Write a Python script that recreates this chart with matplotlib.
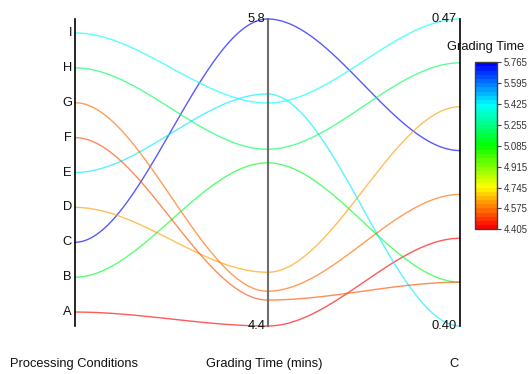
import numpy as np
import matplotlib
matplotlib.use("Agg")
import matplotlib.pyplot as plt
from matplotlib.colors import ListedColormap, Normalize, hsv_to_rgb
from matplotlib.cm import ScalarMappable

plt.rcParams['font.family'] = ['Liberation Sans', 'DejaVu Sans']

# Data for each processing condition
conditions = ['A', 'B', 'C', 'D', 'E', 'F', 'G', 'H', 'I']
grading_time = [4.405, 5.128, 5.765, 4.643, 5.433, 4.520, 4.559, 5.188, 5.393]
c_values = [0.42, 0.41, 0.44, 0.45, 0.40, 0.41, 0.43, 0.46, 0.47]
axis_titles = ['Processing Conditions', 'Grading Time (mins)', 'C']

W, H = 530, 374
fig = plt.figure(figsize=(W / 100, H / 100), dpi=100)
ax = fig.add_axes([75 / W, (H - 326) / H, 385 / W, 307 / H])
ax.set_xlim(0, 2)
ax.set_ylim(0, 1)
ax.axis('off')

# banded rainbow colormap, red (low) -> blue (high)
nb = 40
hues = np.linspace(0, 2 / 3, nb)
cmap = ListedColormap(hsv_to_rgb(np.column_stack([hues, np.ones(nb), np.ones(nb)])))
gmin, gmax = min(grading_time), max(grading_time)
norm = Normalize(gmin, gmax)

# normalised positions on each vertical axis
pad = 0.4
n = len(conditions)
cat_pos = (np.arange(n) + pad) / (n - 1 + 2 * pad)
g_pos = (np.array(grading_time) - gmin) / (gmax - gmin)
cmin, cmax = min(c_values), max(c_values)
c_pos = (np.array(c_values) - cmin) / (cmax - cmin)

t = np.linspace(0, 1, 120)


def bezier(x0, y0, x1, y1):
    dx = (x1 - x0) / 3
    px = [x0, x0 + dx, x1 - dx, x1]
    py = [y0, y0, y1, y1]
    basis = [(1 - t) ** 3, 3 * (1 - t) ** 2 * t, 3 * (1 - t) * t ** 2, t ** 3]
    return (sum(b * p for b, p in zip(basis, px)),
            sum(b * p for b, p in zip(basis, py)))


for i in range(n):
    col = cmap(norm(grading_time[i]))
    for x0, y0, x1, y1 in [(0, cat_pos[i], 1, g_pos[i]), (1, g_pos[i], 2, c_pos[i])]:
        xs, ys = bezier(x0, y0, x1, y1)
        ax.plot(xs, ys, color=col, lw=1.0, alpha=0.65, clip_on=False)

# vertical axes
ax.plot([0, 0], [0, 1], color='black', lw=1.2, clip_on=False)
ax.plot([1, 1], [0, 1], color='#6e6e6e', lw=1.5, clip_on=False)
ax.plot([2, 2], [0, 1], color='black', lw=1.2, clip_on=False)

fs = 9.3
for lab, p in zip(conditions, cat_pos):
    ax.annotate(lab, (0, p), xytext=(-3, 0), textcoords='offset pixels',
                ha='right', va='center', fontsize=fs, color='#111111')

ax.annotate(f'{gmax:.1f}', (1, 1), xytext=(-2, 0), textcoords='offset pixels',
            ha='right', va='center', fontsize=fs, color='#111111')
ax.annotate(f'{gmin:.1f}', (1, 0), xytext=(-2, 0), textcoords='offset pixels',
            ha='right', va='center', fontsize=fs, color='#111111')
ax.annotate(f'{cmax:.2f}', (2, 1), xytext=(-3, 0), textcoords='offset pixels',
            ha='right', va='center', fontsize=fs, color='#111111')
ax.annotate(f'{cmin:.2f}', (2, 0), xytext=(-3, 0), textcoords='offset pixels',
            ha='right', va='center', fontsize=fs, color='#111111')

for title, xc in zip(axis_titles, [74.5, 264, 454]):
    fig.text(xc / W, (H - 364) / H, title, ha='center', va='center',
             fontsize=fs, color='#111111')

# colour bar
cax = fig.add_axes([475 / W, (H - 229.3) / H, 22 / W, 167 / H])
cb = fig.colorbar(ScalarMappable(norm=norm, cmap=cmap), cax=cax,
                  ticks=np.linspace(gmin, gmax, 9), format='%.3f')
cb.outline.set_edgecolor('#404040')
cb.outline.set_linewidth(1.0)
cax.tick_params(labelsize=6.9, length=3, width=0.8, color='#404040',
                labelcolor='#333333', pad=2)
fig.text(486 / W, (H - 46.7) / H, 'Grading Time', ha='center', va='center',
         fontsize=fs, color='#111111')

fig.savefig('out.png', dpi=100)
